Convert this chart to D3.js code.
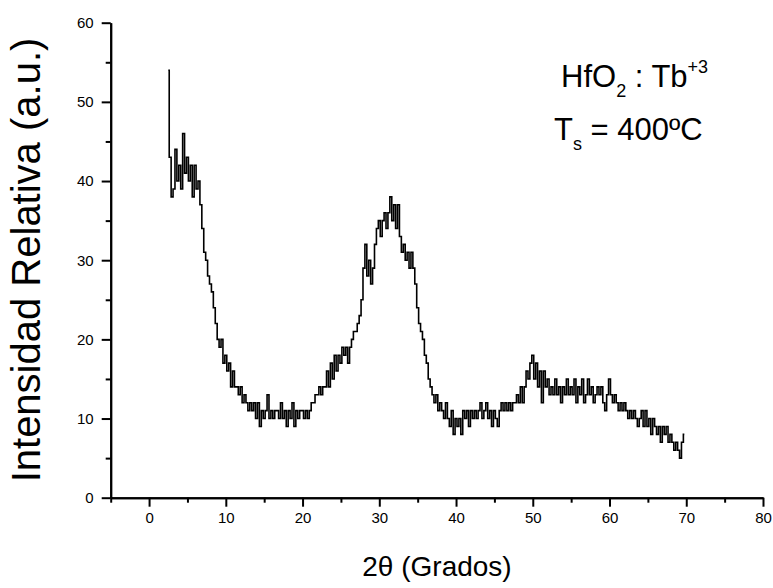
<!DOCTYPE html>
<html>
<head>
<meta charset="utf-8">
<script src="https://cdn.jsdelivr.net/npm/d3@7"></script>
<style>
  html, body { margin: 0; padding: 0; background: #fff; }
  svg { display: block; font-family: "Liberation Sans", Arial, sans-serif; }
</style>
</head>
<body>
<svg id="chart" width="773" height="588"></svg>
<script>
// ---- data ----
const angleStart = 2.5;   // 2θ of first sample (degrees)
const angleStep = 0.25;   // sampling interval (degrees)
const intensity = [
  54, 43,
  38, 39, 44, 40,
  42, 39, 46, 41,
  43, 40, 42, 38,
  42, 39, 40, 37,
  34, 31, 30, 28,
  27, 26, 24, 22,
  20, 19, 20, 17,
  18, 16, 17, 14,
  16, 14, 14, 13,
  14, 12, 13, 12,
  11, 12, 11, 12,
  10, 12, 9, 11,
  10, 11, 13, 10,
  11, 10, 11, 11,
  10, 12, 10, 11,
  9, 11, 10, 12,
  9, 11, 10, 11,
  11, 10, 11, 10,
  11, 12, 12, 13,
  13, 14, 13, 14,
  14, 16, 14, 17,
  15, 18, 16, 18,
  17, 19, 18, 19,
  17, 19, 20, 21,
  21, 22, 23, 25,
  29, 32, 28, 30,
  27, 29, 32, 34,
  35, 33, 35, 36,
  34, 36, 38, 35,
  37, 34, 37, 33,
  31, 32, 30, 31,
  29, 31, 29, 27,
  24, 22, 21, 20,
  18, 17, 15, 14,
  13, 12, 13, 11,
  12, 11, 10, 12,
  10, 9, 11, 8,
  10, 9, 10, 8,
  11, 10, 11, 9,
  11, 10, 11, 10,
  11, 12, 10, 11,
  12, 10, 11, 9,
  11, 10, 9, 11,
  12, 11, 12, 11,
  12, 11, 12, 12,
  13, 12, 14, 12,
  14, 16, 15, 17,
  18, 15, 17, 14,
  16, 12, 16, 14,
  15, 13, 14, 13,
  15, 13, 14, 12,
  14, 13, 15, 13,
  14, 13, 15, 12,
  14, 13, 15, 12,
  13, 15, 13, 14,
  12, 13, 14, 13,
  14, 12, 11, 13,
  15, 13, 12, 13,
  12, 11, 12, 11,
  12, 11, 10, 11,
  10, 11, 10, 9,
  10, 11, 9, 11,
  9, 10, 8, 10,
  9, 8, 9, 7,
  9, 8, 9, 7,
  8, 7, 6, 7,
  6, 5, 7, 8
];
const xDomain = [-5, 80];
const yDomain = [0, 60];
const xMajorTicks = [0, 10, 20, 30, 40, 50, 60, 70, 80];
const xTickLabels = ["0", "10", "20", "30", "40", "50", "60", "70", "80"];
const xMinorTicks = [-5, 5, 15, 25, 35, 45, 55, 65, 75];
const yMajorTicks = [0, 10, 20, 30, 40, 50, 60];
const yTickLabels = ["0", "10", "20", "30", "40", "50", "60"];
const yMinorTicks = [5, 15, 25, 35, 45, 55];
const xTitle = "2θ (Grados)";
const yTitle = "Intensidad Relativa (a.u.)";

const data = intensity.map((v, i) => ({ x: angleStart + i * angleStep, y: v }));

// ---- layout ----
const svg = d3.select("#chart");
const plotL = 110.7, plotR = 763, plotT = 22.7, plotB = 497.7;
const x = d3.scaleLinear().domain(xDomain).range([plotL, plotR]);
const y = d3.scaleLinear().domain(yDomain).range([plotB, plotT]);

// data line
const line = d3.line().x(d => x(d.x)).y(d => y(d.y)).curve(d3.curveStep);
svg.append("path")
  .datum(data)
  .attr("d", line)
  .attr("fill", "none")
  .attr("stroke", "#000")
  .attr("stroke-width", 1.6);

// axes
function styleAxis(g) {
  g.selectAll("path.domain").attr("stroke", "#000").attr("stroke-width", 2);
  g.selectAll(".tick line").attr("stroke", "#000").attr("stroke-width", 2);
  g.selectAll(".tick text").attr("fill", "#000")
    .style("font-family", '"Liberation Sans", Arial, sans-serif').style("font-size", "15px");
}

svg.append("g").attr("transform", `translate(0,${plotB})`)
  .call(d3.axisBottom(x).tickValues(xMinorTicks).tickSize(5).tickSizeOuter(0).tickFormat(""))
  .call(styleAxis);
svg.append("g").attr("transform", `translate(0,${plotB})`)
  .call(d3.axisBottom(x).tickValues(xMajorTicks).tickSize(9).tickSizeOuter(0).tickPadding(6)
    .tickFormat((d, i) => xTickLabels[i]))
  .call(styleAxis);

svg.append("g").attr("transform", `translate(${plotL},0)`)
  .call(d3.axisLeft(y).tickValues(yMinorTicks).tickSize(5).tickSizeOuter(0).tickFormat(""))
  .call(styleAxis);
svg.append("g").attr("transform", `translate(${plotL},0)`)
  .call(d3.axisLeft(y).tickValues(yMajorTicks).tickSize(9).tickSizeOuter(0).tickPadding(8)
    .tickFormat((d, i) => yTickLabels[i]))
  .call(styleAxis);

// axis titles
svg.append("text")
  .attr("x", 437).attr("y", 576)
  .attr("text-anchor", "middle")
  .style("font-size", "28px")
  .text(xTitle);

svg.append("text")
  .attr("transform", "translate(40,260) rotate(-90)")
  .attr("text-anchor", "middle")
  .style("font-size", "40px")
  .text(yTitle);

// annotation
const a1 = svg.append("text").attr("x", 561).attr("y", 87).style("font-size", "31px");
a1.append("tspan").text("HfO");
a1.append("tspan").attr("dy", 10).style("font-size", "18px").text("2");
a1.append("tspan").attr("dy", -10).text(" : Tb");
a1.append("tspan").attr("dy", -14).style("font-size", "18px").text("+3");

const a2 = svg.append("text").attr("x", 554).attr("y", 140).style("font-size", "31px");
a2.append("tspan").text("T");
a2.append("tspan").attr("dy", 10).style("font-size", "18px").text("s");
a2.append("tspan").attr("dy", -10).text(" = 400ºC");
</script>
</body>
</html>
